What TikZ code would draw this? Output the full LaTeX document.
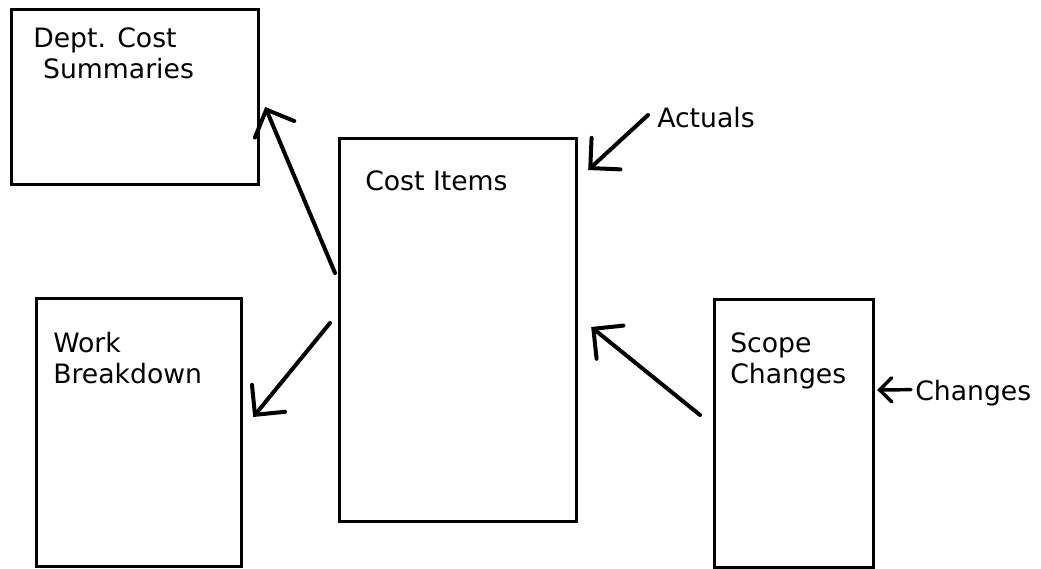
\documentclass[tikz,border=0pt]{standalone}
\usepackage{fontspec}
\setmainfont{DejaVu Sans}
\usepackage{tikz}
\usetikzlibrary{arrows.meta}
\usetikzlibrary{positioning}

\begin{document}
\begin{tikzpicture}[
        x=0.75pt, y=-0.75pt,
        box/.style={
            rectangle, anchor=north west, inner sep=0pt,
            draw=black, line width=2.4pt,
        },
        label/.style={
            anchor=base west, inner sep=0pt, align=left,
            font=\fontsize{20}{23.25}\selectfont,
        },
        flow/.style={
            line width=3pt, line cap=round, line join=round,
            -{Straight Barb[length=16pt, width=32pt, line cap=round]},
        },
        smallflow/.style={
            line width=2.6pt, line cap=round,
            -{Straight Barb[length=9pt, width=18pt, line cap=round]},
        },
    ]
        \useasboundingbox (0,0) rectangle (1041,568);

        % the four files
        \node (summaries) at(10,8) [box,
            minimum width=185.25pt, minimum height=131.25pt] {};
        \node (costitems) at(338,137) [box,
            minimum width=177.75pt, minimum height=287.25pt] {};
        \node (breakdown) at(35,297) [box,
            minimum width=153.75pt, minimum height=201pt] {};
        \node (scope) at(713,298) [box,
            minimum width=119.25pt, minimum height=201pt] {};

        % their titles (anchored at the last line)
        \node (summariestext) at(33,78) [label] {Dept. Cost\\\hspace{0.37em}Summaries};
        \node (costitemstext) at(365,190) [label] {Cost Items};
        \node (breakdowntext) at(53,383) [label] {Work\\Breakdown};
        \node (scopetext) at(730,383) [label] {Scope\\Changes};

        % inputs from outside
        \node (actuals) at(657,127) [label] {Actuals};
        \node (changes) at(915,400) [label] {Changes};

        % flows
        \draw[flow] ([shift={(-3,136)}]costitems.north west)
            -- ([shift={(5,99)}]summaries.north east);
        \draw[flow] ([shift={(-8,186)}]costitems.north west)
            -- ([shift={(10,120)}]breakdown.north east);
        \draw[flow] ([shift={(-9,-2)}]actuals.west)
            -- ([shift={(10,33)}]costitems.north east);
        \draw[flow] ([shift={(-13,117)}]scope.north west)
            -- ([shift={(13,190)}]costitems.north east);
        \draw[smallflow] ([shift={(-4,-3)}]changes.west)
            -- ([shift={(2,92)}]scope.north east);
    \end{tikzpicture}
\end{document}
